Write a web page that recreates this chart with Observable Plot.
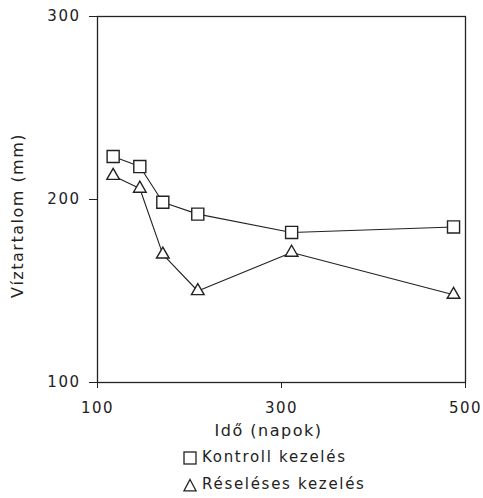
<!DOCTYPE html>
<html><head><meta charset="utf-8">
<script src="https://cdn.jsdelivr.net/npm/d3@7"></script>
<script src="https://cdn.jsdelivr.net/npm/@observablehq/plot@0.6"></script>
<style>
body{margin:0;background:#fff;font-family:"DejaVu Sans",sans-serif;color:#222}
#chart svg text{letter-spacing:1.5px}
#legend{margin-left:183px;font-size:15px;letter-spacing:1.7px;line-height:27px}
#legend div{display:flex;align-items:center;height:27px}
#legend svg{margin-right:5px;flex:none}
</style></head><body>
<div id="chart"></div>
<div id="legend"></div>
<script>
const days = [117, 146, 171, 209, 311, 487];
const kontroll = [223.5, 218, 198.5, 192, 182, 185];
const reseleses = [213, 206, 170, 150, 171, 148];
const seriesNames = ["Kontroll kezelés", "Réseléses kezelés"];
const xTicks = [100, 300, 500];
const yTicks = [100, 200, 300];
const xLabel = "Idő (napok)";
const yLabel = "Víztartalom (mm)";

const rowsK = days.map((d, i) => ({day: d, value: kontroll[i], series: seriesNames[0]}));
const rowsR = days.map((d, i) => ({day: d, value: reseleses[i], series: seriesNames[1]}));
const ink = "#222";

const chart = Plot.plot({
  width: 483, height: 444,
  marginTop: 16, marginLeft: 97, marginRight: 18, marginBottom: 62,
  style: {fontFamily: "DejaVu Sans", fontSize: "15px", color: ink, background: "white"},
  x: {domain: [100, 500]},
  y: {domain: [100, 300]},
  marks: [
    Plot.frame({stroke: ink, strokeWidth: 1.3}),
    Plot.axisX({ticks: xTicks, tickSize: 6, tickPadding: 14, label: null, stroke: ink, fontSize: 15}),
    Plot.axisY({ticks: yTicks, tickSize: 8, tickPadding: 9, label: null, stroke: ink, fontSize: 15}),
    Plot.line(rowsK, {x: "day", y: "value", stroke: ink, strokeWidth: 1.1}),
    Plot.line(rowsR, {x: "day", y: "value", stroke: ink, strokeWidth: 1.1}),
    Plot.dot(rowsK, {x: "day", y: "value", symbol: "square", r: 6.8, fill: "white", stroke: ink, strokeWidth: 1.4}),
    Plot.dot(rowsR, {x: "day", y: "value", symbol: "triangle", r: 4.7, fill: "white", stroke: ink, strokeWidth: 1.4}),
    Plot.text([xLabel], {frameAnchor: "bottom", dy: 48, dx: -13, fontSize: 16, fill: ink, textAnchor: "middle", lineAnchor: "middle"}),
    Plot.text([yLabel], {frameAnchor: "left", dx: -80, dy: 16, rotate: -90, fontSize: 16, fill: ink, textAnchor: "middle", lineAnchor: "middle"})
  ]
});
document.getElementById("chart").append(chart);

const legend = document.getElementById("legend");
const symbols = [
  '<svg width="14" height="14"><rect x="1" y="1" width="12" height="12" fill="none" stroke="#222" stroke-width="1.3"/></svg>',
  '<svg width="14" height="14"><path d="M7 1.5 L13 12.8 L1 12.8 Z" fill="none" stroke="#222" stroke-width="1.3"/></svg>'
];
seriesNames.forEach((name, i) => {
  const row = document.createElement("div");
  row.innerHTML = symbols[i];
  const span = document.createElement("span");
  span.textContent = name;
  row.append(span);
  legend.append(row);
});
</script>
</body></html>
